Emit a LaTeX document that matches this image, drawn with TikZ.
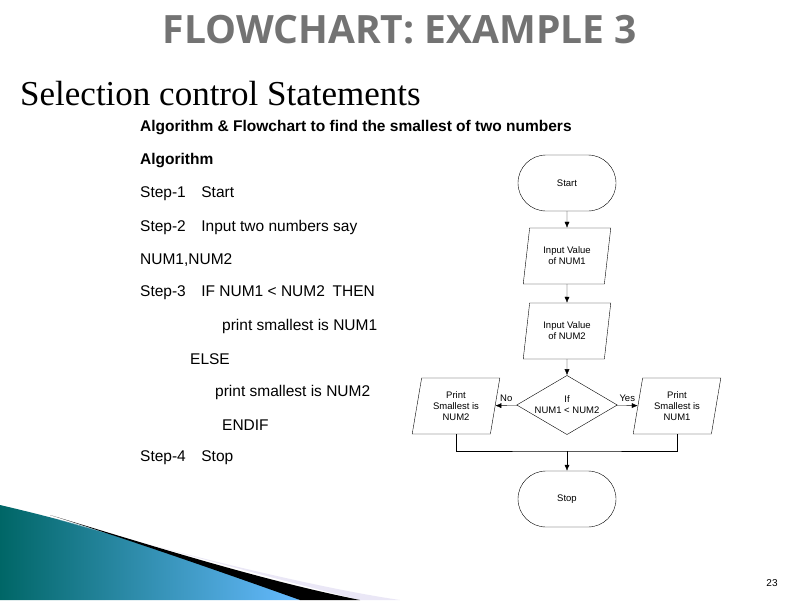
\documentclass[tikz,border=0pt]{standalone}
\usepackage{fontspec}
\setmainfont{Liberation Serif}
\setsansfont{Liberation Sans}
\newfontfamily\titlefont{Open Sans}
\usetikzlibrary{shapes.geometric,shapes.misc,arrows.meta}
\begin{document}
\begin{tikzpicture}[x=1pt,y=-1pt,
  alg/.style={anchor=west,font=\sffamily\fontsize{15.5}{17}\selectfont,inner sep=0},
  fc/.style={draw,thin,font=\sffamily\fontsize{9.5}{11}\selectfont,align=center,inner sep=1pt},
  term/.style={fc,rounded rectangle,minimum width=100,minimum height=56},
  io/.style={fc,trapezium,trapezium left angle=78,trapezium right angle=102,trapezium stretches=true,minimum width=88,minimum height=56},
  arr/.style={-{Latex[length=6pt,width=5pt]},thin}]
\useasboundingbox (0,0) rectangle (800,600);
\fill[white] (0,0) rectangle (800,600);
% bottom swoosh
\shade[left color=teal!80!black,right color=cyan!55!blue!60] (0,505) .. controls (150,540) and (250,580) .. (300,600) -- (0,600) -- cycle;
\fill[cyan!10!blue!8] (60,520) .. controls (200,560) and (330,590) .. (400,600) -- (360,600) .. controls (260,575) and (150,545) .. (60,520) -- cycle;
\fill[black] (50,515) .. controls (150,545) and (260,580) .. (360,600) -- (300,600) .. controls (230,575) and (130,540) .. (50,515) -- cycle;
% titles
\node[font=\titlefont\bfseries\fontsize{39}{44}\selectfont,text=black!55] (title) at (400,30) {FLOWCHART: EXAMPLE 3};
\node[anchor=west,font=\fontsize{35}{38}\selectfont,inner sep=0] (sub) at (20,94) {Selection control Statements};
% algorithm
\node[alg,font=\sffamily\bfseries\fontsize{15.5}{17}\selectfont] (a0) at (140,128) {Algorithm \& Flowchart to find the smallest of two numbers};
\node[alg,font=\sffamily\bfseries\fontsize{15.5}{17}\selectfont] (a1) at (140,161) {Algorithm};
\node[alg] (a2) at (140,194) {Step-1\quad Start};
\node[alg] (a3) at (140,227) {Step-2\quad Input two numbers say};
\node[alg] (a4) at (140,260) {NUM1,NUM2};
\node[alg] (a5) at (140,293) {Step-3\quad IF NUM1 < NUM2\enspace THEN};
\node[alg] (a6) at (222,326) {print smallest is NUM1};
\node[alg] (a7) at (190,359) {ELSE};
\node[alg] (a8) at (215,392) {print smallest is NUM2};
\node[alg] (a9) at (222,425) {ENDIF};
\node[alg] (a10) at (140,458) {Step-4\quad Stop};
% flowchart
\node[term] (start) at (567,183) {Start};
\node[io] (in1) at (567,256) {Input Value\\of NUM1};
\node[io] (in2) at (567,331) {Input Value\\of NUM2};
\node[fc,diamond,aspect=1.7,minimum width=94,minimum height=56] (dec) at (567,405) {If\\NUM1 < NUM2};
\node[io] (p2) at (456,406) {Print\\Smallest is\\NUM2};
\node[io] (p1) at (677,406) {Print\\Smallest is\\NUM1};
\node[term] (stop) at (567,499) {Stop};
\coordinate (m) at (567,451);
\draw[arr] (start) -- (in1);
\draw[arr] (in1) -- (in2);
\draw[arr] (in2) -- (dec);
\draw[arr] (dec) -- node[above,font=\sffamily\fontsize{9.5}{10}\selectfont]{No} (p2);
\draw[arr] (dec) -- node[above,font=\sffamily\fontsize{9.5}{10}\selectfont]{Yes} (p1);
\draw[thin] (p2.south) |- (m) -| (p1.south);
\draw[arr] (m) -- (stop);
\node[font=\sffamily\fontsize{10}{12}\selectfont] (pg) at (772,583) {23};
\end{tikzpicture}
\end{document}
